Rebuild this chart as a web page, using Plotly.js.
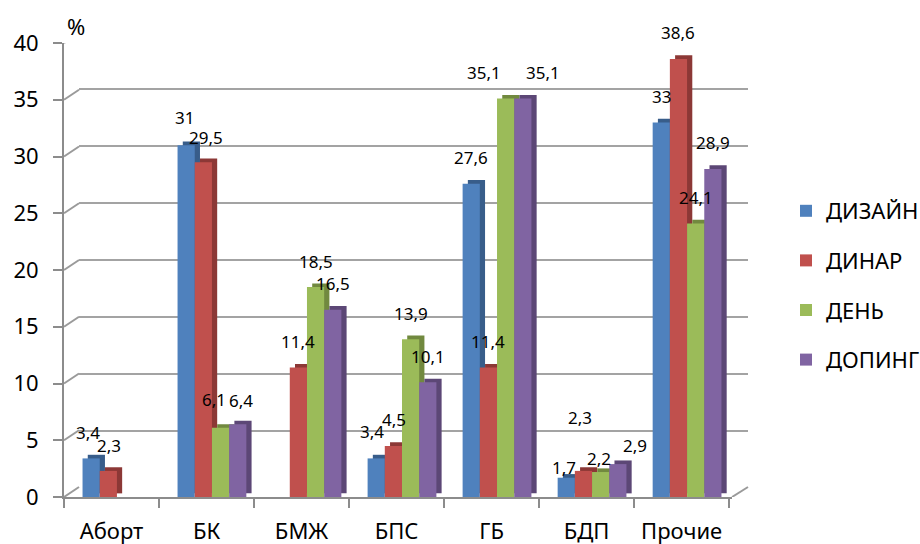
<!DOCTYPE html>
<html>
<head>
<meta charset="utf-8">
<script src="https://cdn.plot.ly/plotly-3.0.1.min.js"></script>
<style>
  html, body { margin: 0; padding: 0; background: #fff; }
  #chart { width: 920px; height: 544px; }
</style>
</head>
<body>
<div id="chart"></div>
<script>
// Categories and series (percent)
const categories = ['Аборт', 'БК', 'БМЖ', 'БПС', 'ГБ', 'БДП', 'Прочие'];
const seriesNames = ['ДИЗАЙН', 'ДИНАР', 'ДЕНЬ', 'ДОПИНГ'];
const dizain = [3.4, 31, null, 3.4, 27.6, 1.7, 33];
const dinar  = [2.3, 29.5, 11.4, 4.5, 11.4, 2.3, 38.6];
const den    = [null, 6.1, 18.5, 13.9, 35.1, 2.2, 24.1];
const doping = [null, 6.4, 16.5, 10.1, 35.1, 2.9, 28.9];
const yTicks = [0, 5, 10, 15, 20, 25, 30, 35, 40];

const seriesValues = [dizain, dinar, den, doping];
const faceColors = ['#4f81bd', '#c0504d', '#9bbb59', '#8064a2'];
const sideColors = ['#385d8a', '#8c3836', '#71893f', '#5c4776'];

const FONT = '"Noto Sans", "DejaVu Sans", sans-serif';
const barW = 0.181;        // bar width in category units
const groupStart = -0.305; // left edge of the group relative to category center
const depthX = 0.055;      // pseudo-3D depth, category units
const depthY = 0.32;       // pseudo-3D depth, value units
const catPx = 668 / 7;     // width of one category in pixels

// label placement: pixels above the bar top, plus a few hand-placed ones
const labelLift = 26;
const labelNudge = {
  '0|0': { dx: -3 },
  '0|1': { dx: 1, dy: 25 },
  '1|0': { dx: -2, dy: 28 },
  '1|1': { dx: 3, dy: 25 },
  '1|2': { dx: -7, dy: 28 },
  '1|3': { dx: 3, dy: 24 },
  '3|0': { dx: -4, dy: 27 },
  '3|1': { dx: 1, dy: 26 },
  '5|0': { dx: -2, dy: 10 },
  '5|1': { dx: -3, dy: 53 },
  '5|2': { dx: -2, dy: 14 },
  '5|3': { dx: 17, dy: 19 },
  '4|2': { dx: -22 },
  '4|3': { dx: 20 }
};

const fmt = v => String(v).replace('.', ',');

const traces = [];
// back wall axes (carry the gridlines), drawn beneath the bars
traces.push({ type: 'scatter', x: [null], y: [null], xaxis: 'x', yaxis: 'y',
  showlegend: false, hoverinfo: 'skip' });
// side + top faces first so the front faces cover them
seriesValues.forEach((vals, i) => {
  traces.push({
    type: 'bar', x: categories, y: vals, base: depthY, xaxis: 'x2', yaxis: 'y2',
    offset: groupStart + i * barW + depthX, width: barW,
    marker: { color: sideColors[i], line: { width: 0 } },
    showlegend: false, hoverinfo: 'skip', legendgroup: seriesNames[i]
  });
});
// front faces
seriesValues.forEach((vals, i) => {
  traces.push({
    type: 'bar', name: seriesNames[i], x: categories, y: vals, xaxis: 'x2', yaxis: 'y2',
    offset: groupStart + i * barW, width: barW,
    marker: { color: faceColors[i], line: { width: 0 } },
    legendgroup: seriesNames[i]
  });
});

// value labels
const annotations = [];
seriesValues.forEach((vals, i) => {
  vals.forEach((v, c) => {
    if (v == null) return;
    const n = labelNudge[c + '|' + i] || {};
    annotations.push({
      xref: 'x2', yref: 'y2', x: categories[c], y: v, showarrow: false,
      text: fmt(v), xanchor: 'center', yanchor: 'middle',
      xshift: (groupStart + (i + 0.5) * barW) * catPx + (n.dx || 0),
      yshift: n.dy != null ? n.dy : labelLift,
      font: { family: FONT, size: 17, color: '#000' }
    });
  });
});
annotations.push({
  text: '%', xref: 'paper', yref: 'paper', x: 0, y: 1,
  xanchor: 'left', yanchor: 'bottom', xshift: 1, yshift: -11, showarrow: false,
  font: { family: FONT, size: 22, color: '#000' }
});

// connectors from the front value axis to the back wall gridlines
const shapes = yTicks.map(t => ({
  type: 'line', xref: 'paper', xsizemode: 'pixel', xanchor: 0, x0: 0, x1: 15,
  yref: 'y2', ysizemode: 'pixel', yanchor: t, y0: 0, y1: 10,
  line: { color: '#9a9a9a', width: 2 }, layer: 'below'
}));
// right edge of the floor
shapes.push({
  type: 'line', xref: 'x2 domain', xsizemode: 'pixel', xanchor: 1, x0: 0, x1: 16,
  yref: 'y2', ysizemode: 'pixel', yanchor: 0, y0: 0, y1: 10,
  line: { color: '#9a9a9a', width: 2 }, layer: 'below'
});

const layout = {
  width: 920, height: 544,
  margin: { l: 64, r: 172, t: 32, b: 47 },
  paper_bgcolor: '#fff', plot_bgcolor: 'rgba(0,0,0,0)',
  barmode: 'overlay',
  font: { family: FONT, size: 21, color: '#000' },
  showlegend: true,
  legend: {
    xref: 'container', yref: 'container', x: 786 / 920, y: 1 - 190 / 544,
    xanchor: 'left', yanchor: 'top',
    font: { family: FONT, size: 22, color: '#000' },
    tracegroupgap: 18, bgcolor: 'rgba(0,0,0,0)'
  },
  // back wall
  xaxis: {
    domain: [15 / 684, 1], anchor: 'y', range: [0, 1],
    showgrid: false, zeroline: false, showline: false, showticklabels: false, ticks: ''
  },
  yaxis: {
    domain: [9 / 465, 1], anchor: 'x', range: [0, 40], tickvals: yTicks,
    showgrid: true, gridcolor: '#a3a3a3', gridwidth: 2,
    zeroline: false, showline: false, showticklabels: false, ticks: ''
  },
  // front axes
  xaxis2: {
    domain: [0, 668 / 684], anchor: 'y2', type: 'category',
    showgrid: false, zeroline: false,
    showline: true, linecolor: '#8c8c8c', linewidth: 2,
    ticks: 'outside', tickson: 'boundaries', ticklen: 9, tickwidth: 2, tickcolor: '#8c8c8c',
    ticklabelstandoff: 14,
    tickfont: { family: FONT, size: 22, color: '#000' }
  },
  yaxis2: {
    domain: [0, 454 / 465], anchor: 'x2', range: [0, 40], tickvals: yTicks,
    showgrid: false, zeroline: false,
    showline: true, linecolor: '#8c8c8c', linewidth: 2,
    ticks: 'outside', ticklen: 9, tickwidth: 2, tickcolor: '#8c8c8c',
    ticklabelstandoff: 10,
    tickfont: { family: FONT, size: 22, color: '#000' }
  },
  shapes: shapes,
  annotations: annotations
};

Plotly.newPlot('chart', traces, layout, { displayModeBar: false, staticPlot: true });
</script>
</body>
</html>
